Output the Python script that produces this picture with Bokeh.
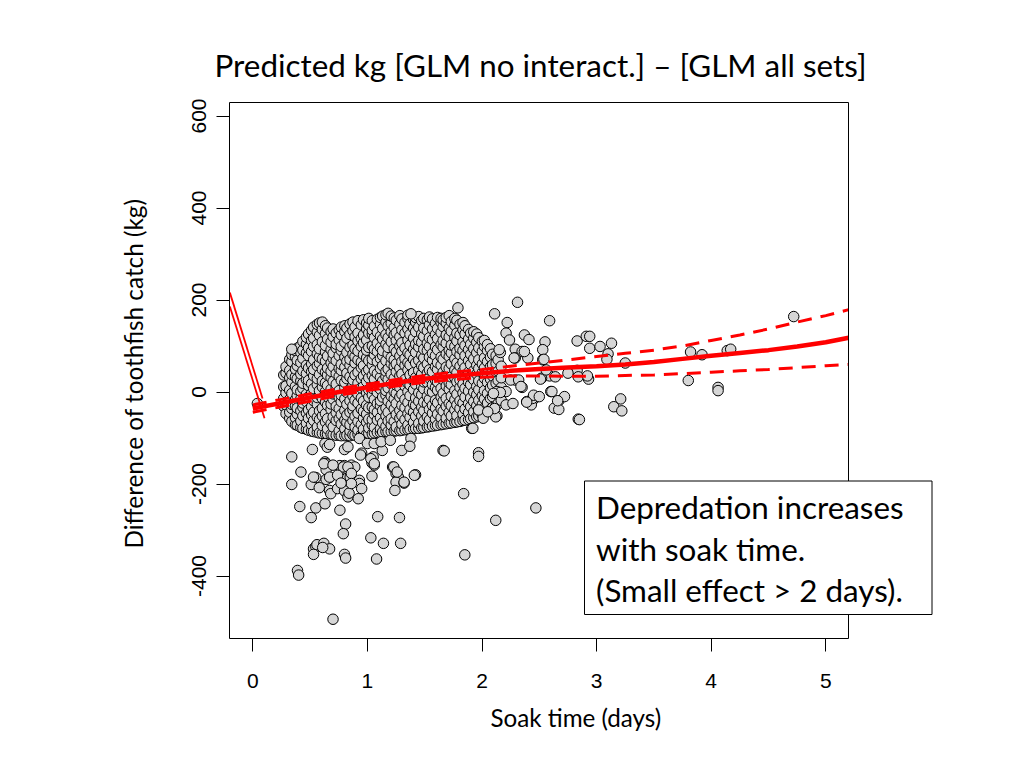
from bokeh.plotting import figure
from bokeh.models import Label, FixedTicker, Range1d, ColumnDataSource, Title
from bokeh.embed import file_html
from bokeh.resources import INLINE

# ---------------- data ----------------
title_text = "Predicted kg [GLM no interact.] \u2013 [GLM all sets]"
x_label_text = "Soak time (days)"
y_label_text = "Difference of toothfish catch  (kg)"
box_lines = ["Depredation increases", "with soak time.", "(Small effect > 2 days)."]

x_ticks = [0, 1, 2, 3, 4, 5]
y_ticks = [-400, -200, 0, 200, 400, 600]
y_tick_labels = ["-400", "-200", "0", "200", "400", "600"]

# dense cloud: soak-time columns and the catch differences read in each column
core_x = [0.27, 0.29, 0.322, 0.341, 0.372, 0.388, 0.419, 0.437, 0.468, 0.486,
          0.513, 0.531, 0.563, 0.582, 0.607, 0.634, 0.652, 0.683, 0.701, 0.728,
          0.754, 0.772, 0.803, 0.821, 0.848, 0.874, 0.892, 0.918, 0.947, 0.966,
          0.993, 1.012, 1.043, 1.061, 1.087, 1.114, 1.133, 1.162, 1.181, 1.208,
          1.234, 1.252, 1.283, 1.301, 1.328, 1.354, 1.372, 1.403, 1.421, 1.448,
          1.474, 1.492, 1.523, 1.541, 1.568, 1.594, 1.612, 1.643, 1.661, 1.688,
          1.714, 1.732, 1.763, 1.781, 1.808, 1.834, 1.852, 1.883, 1.901, 1.928,
          1.954, 1.972, 2.003, 2.021, 2.048, 2.074, 2.092, 2.123, 2.141, 2.168]
core_y = [
    [-31, -14, 11, 37],
    [-47, -28, -2, 13, 41, 55],
    [-57, -44, -16, 4, 31, 47, 71],
    [-64, -36, -27, -3, 22, 38, 66, 81],
    [-71, -56, -30, -17, 12, 33, 50, 77, 90],
    [-72, -48, -35, -8, 5, 29, 57, 69, 95],
    [-77, -63, -41, -15, 1, 24, 39, 64, 86, 101],
    [-79, -52, -33, -24, 8, 19, 46, 73, 91, 110],
    [-81, -68, -46, -21, -5, 27, 40, 58, 85, 104, 119],
    [-83, -57, -39, -11, 14, 25, 52, 79, 96, 126],
    [-85, -71, -50, -32, -3, 18, 44, 61, 88, 112, 134],
    [-86, -62, -44, -19, 7, 35, 49, 70, 99, 117, 141],
    [-88, -76, -55, -27, -12, 16, 29, 57, 83, 103, 130, 147],
    [-89, -60, -41, -6, 3, 38, 62, 76, 94, 123, 150],
    [-90, -73, -52, -35, -14, 11, 24, 49, 72, 109, 136, 152],
    [-91, -65, -47, -22, 1, 20, 43, 67, 87, 101, 127, 144],
    [-92, -80, -58, -29, -10, 14, 37, 52, 78, 115, 139],
    [-92, -69, -38, -26, 6, 31, 45, 63, 92, 108, 131],
    [-93, -76, -54, -16, -4, 23, 55, 73, 84, 120, 137],
    [-94, -62, -45, -31, 9, 17, 40, 68, 96, 104, 128],
    [-94, -84, -58, -36, -12, 3, 34, 51, 79, 113, 135],
    [-95, -70, -49, -21, -7, 25, 47, 60, 90, 99, 124, 141],
    [-95, -80, -61, -40, -15, 10, 21, 54, 76, 108, 131, 144],
    [-94, -66, -50, -27, -1, 29, 41, 67, 86, 117, 139],
    [-95, -85, -71, -44, -19, 6, 33, 58, 71, 97, 125, 148],
    [-93, -62, -39, -30, -9, 15, 26, 48, 82, 102, 133, 152],
    [-94, -76, -53, -18, 2, 37, 63, 77, 94, 120, 141],
    [-92, -83, -64, -46, -24, -5, 19, 43, 70, 89, 111, 128, 155],
    [-93, -71, -37, -13, 9, 29, 53, 65, 99, 116, 146],
    [-91, -81, -57, -42, -20, 12, 35, 57, 81, 107, 124, 157],
    [-92, -66, -48, -29, -2, 23, 44, 74, 91, 113, 137, 150],
    [-90, -78, -59, -34, -11, 5, 31, 49, 68, 97, 128, 145, 160],
    [-91, -72, -60, -33, -6, 8, 36, 59, 71, 100, 126, 134, 155],
    [-89, -77, -49, -38, -16, 17, 28, 46, 81, 93, 118, 143],
    [-88, -61, -44, -25, -1, 12, 40, 66, 88, 106, 130, 158],
    [-88, -80, -56, -30, -19, 6, 32, 51, 73, 97, 121, 147, 162],
    [-87, -67, -40, -11, 14, 24, 57, 79, 90, 115, 138, 165],
    [-86, -75, -52, -35, -7, 3, 33, 45, 68, 104, 125, 152, 168],
    [-86, -63, -44, -20, 9, 27, 50, 83, 97, 118, 144, 171],
    [-86, -72, -58, -28, -9, 18, 38, 62, 75, 109, 131, 149, 165],
    [-85, -64, -37, -15, 1, 30, 56, 70, 94, 124, 140, 161],
    [-84, -76, -49, -25, -3, 15, 44, 61, 87, 112, 129, 156],
    [-84, -57, -40, -11, 10, 35, 52, 78, 100, 120, 147, 166],
    [-83, -70, -51, -29, -5, 22, 39, 66, 89, 107, 135, 159],
    [-82, -60, -34, -16, 13, 27, 58, 73, 96, 128, 151],
    [-82, -72, -47, -23, 1, 19, 48, 64, 85, 113, 137, 160, 167],
    [-81, -55, -38, -8, 15, 37, 59, 81, 102, 125, 148],
    [-80, -66, -44, -26, 5, 24, 42, 71, 93, 117, 139, 158],
    [-79, -53, -29, -13, 17, 31, 63, 86, 104, 131, 152, 162],
    [-79, -68, -43, -20, -2, 28, 47, 69, 98, 112, 141, 164],
    [-78, -52, -33, -6, 12, 39, 57, 80, 108, 126, 155],
    [-77, -63, -41, -22, 7, 22, 53, 74, 93, 121, 139, 160],
    [-76, -54, -26, -9, 21, 41, 61, 90, 106, 133, 157],
    [-75, -61, -38, -16, 3, 31, 48, 76, 99, 118, 146, 163],
    [-74, -46, -29, 0, 16, 44, 69, 84, 114, 137, 159],
    [-73, -59, -35, -18, 10, 26, 55, 79, 98, 125, 149],
    [-72, -48, -23, 4, 22, 49, 64, 92, 116, 138, 162],
    [-71, -56, -37, -11, 8, 35, 58, 76, 103, 129, 151, 160],
    [-70, -42, -20, -3, 27, 43, 71, 97, 112, 142, 157],
    [-69, -57, -31, -14, 13, 38, 54, 83, 106, 124, 150, 162],
    [-68, -44, -25, 6, 20, 51, 77, 91, 120, 139, 166],
    [-67, -52, -30, -9, 16, 33, 61, 85, 102, 132, 153],
    [-66, -39, -17, 3, 31, 48, 72, 99, 118, 145, 160],
    [-65, -51, -28, -5, 22, 42, 63, 88, 111, 128, 156],
    [-64, -36, -19, 10, 26, 56, 81, 95, 124, 147],
    [-62, -48, -24, -2, 17, 45, 65, 90, 109, 135, 151],
    [-61, -37, -11, 8, 36, 53, 79, 101, 126, 144],
    [-60, -45, -25, 2, 21, 43, 68, 92, 115, 136],
    [-58, -32, -13, 16, 33, 60, 82, 104, 128],
    [-56, -43, -21, 0, 27, 46, 72, 94, 117, 131],
    [-54, -30, -6, 12, 39, 58, 85, 108, 126],
    [-52, -39, -18, 5, 24, 51, 70, 96, 118],
    [-50, -27, -8, 19, 42, 61, 88, 110],
    [-46, -35, -15, 3, 30, 52, 74, 99, 112],
    [-42, -24, -3, 21, 40, 66, 90, 103],
    [-38, -14, 9, 28, 55, 76, 94],
    [-34, -10, 15, 35, 59, 82],
    [-30, -4, 19, 44, 62, 79],
    [-25, 0, 25, 45, 70],
    [-18, 10, 31, 56],
]

# scattered sets outside the dense cloud
sparse_x = [0.04, 0.34, 1.38, 1.79, 2.11, 2.31, 2.59, 2.22, 2.37, 2.41, 2.55, 2.53, 2.21, 2.29,
            2.35, 2.29, 2.40, 2.59, 2.29, 2.35, 2.13, 2.21, 2.60, 2.21, 2.27, 2.39, 2.45, 2.43,
            2.63, 2.13, 2.01, 1.97, 1.91, 1.66, 1.97, 1.97,
            0.34, 0.52, 0.63, 0.65, 0.67, 0.76, 0.80, 0.85, 0.95, 1.05, 1.04, 1.13, 1.22, 1.30,
            1.38, 0.63, 0.42, 0.34, 0.51, 0.55, 0.58, 0.64, 0.64, 0.67, 0.64, 0.67, 0.68, 0.74,
            0.80, 0.83, 0.84, 0.79, 0.86, 0.89, 0.84, 0.82, 0.85, 0.93, 0.93, 0.95, 0.92, 1.06,
            1.04, 1.25, 1.27, 1.25, 1.32, 1.24, 1.42, 1.37, 1.67,
            0.41, 0.55, 0.51, 0.63, 0.76, 0.81, 0.79, 1.09, 1.28, 1.03, 1.14, 1.29, 1.08, 0.53,
            0.55, 0.56, 0.62, 0.67, 0.53, 0.61, 0.80, 0.81, 0.39, 0.40, 0.70, 1.84, 2.12, 2.47,
            1.85,
            2.83, 2.91, 2.94, 2.94, 3.03, 3.13, 3.10, 3.09, 3.25, 2.83, 2.84, 2.75, 2.93, 2.61,
            2.67, 2.67, 2.72, 2.84, 3.15, 3.21, 3.22, 3.80, 4.06, 4.06, 3.82, 3.92, 4.14, 4.17,
            4.72, 2.44, 2.45, 2.50, 2.39, 2.12, 2.11, 2.05, 2.52, 2.64, 2.56, 2.25, 2.32, 2.34,
            2.28, 2.37, 2.53, 2.16, 2.15, 2.16, 2.10, 2.24, 2.54, 2.51, 2.66, 2.85, 1.92, 2.92,
            0.80, 0.83, 0.93, 1.00, 1.06, 1.12, 1.20, 1.03, 1.06, 0.94, 1.23, 1.26, 1.32, 1.41,
            0.62, 0.70, 0.53, 0.67, 0.74, 0.83, 0.86, 0.86, 0.77]
sparse_y = [-25, 93, 170, 183, 170, 195, 155, 151, 124, 114, 109, 92, 128, 93,
            88, 74, 74, 35, 26, 10, 1, 1, 1, -28, -25, -21, -16, -28,
            -35, -52, -57, -39, -79, -127, -132, -140,
            -141, -125, -112, -120, -114, -160, -160, -164, -133, -141, -154, -127, -163, -127,
            -101, -152, -174, -201, -201, -186, -208, -156, -169, -186, -190, -214, -221, -210,
            -215, -228, -220, -163, -159, -163, -177, -188, -185, -192, -199, -210, -232, -159,
            -183, -177, -185, -196, -198, -214, -180, -118, -128,
            -249, -252, -273, -243, -257, -287, -308, -271, -273, -317, -329, -329, -363, -341,
            -336, -332, -329, -341, -353, -338, -353, -361, -388, -398, -494, -221, -279, -252,
            -354,
            111, 121, 121, 95, 99, 106, 83, 71, 63, 47, 33, 41, 28, 1,
            -19, -38, -10, -59, -32, -15, -41, 25, 10, 3, 87, 81, 90, 93,
            164, -14, -7, -10, -22, -54, -36, -43, 30, 33, 48, 26, 26, 12,
            74, 88, 70, 86, 92, -1, -3, 113, 71, 28, -19, -60, -79, 35,
            -125, -119, -101, -112, -112, -108, -105, -145, -156, -137, -163, -174, -196, -181,
            -156, -159, -185, -185, -181, -163, -177, -199, -198]

# fitted difference (solid) and its confidence band (dashed)
fit_x = [0.00, 0.25, 0.50, 0.75, 1.00, 1.25, 1.50, 1.75, 2.00, 2.25, 2.50, 2.75, 3.00,
         3.25, 3.50, 3.75, 4.00, 4.25, 4.50, 4.75, 5.00, 5.20]
fit_y = [-36, -24, -12, 0, 10, 20, 29, 35, 41, 46, 50, 53, 56, 60, 65, 72, 79, 85, 91,
         99, 108, 118]
upper_y = [-28, -16, -4, 7, 17, 27, 36, 43, 49, 56, 63, 70, 77, 84, 91, 100, 112, 124,
           137, 152, 166, 179]
lower_y = [-44, -32, -20, -7, 3, 13, 21, 27, 32, 35, 35, 34, 34, 36, 37, 40, 43, 46, 49,
           53, 57, 60]
# two thin segments entering from the left edge
edge_x = [[-0.20, 0.102], [-0.20, 0.085]]
edge_y = [[186, -57], [216, -14]]

# ---------------- layout constants (page pixels) ----------------
PX0, SX = 252.3, 114.6       # page x of 0 days, px per day
PY0, SY = 391.5, 0.460       # page y of 0 kg, px per kg
FRAME_L, FRAME_R, FRAME_T, FRAME_B = 226, 938, 99, 641
BOX_L, BOX_R, BOX_T, BOX_B = 229, 848, 102, 638


def dx(px):
    return (px - PX0) / SX


def dy(py):
    return (PY0 - py) / SY


pts_x = [x for x, col in zip(core_x, core_y) for _ in col] + sparse_x
pts_y = [y for col in core_y for y in col] + sparse_y
src = ColumnDataSource(data=dict(x=pts_x, y=pts_y))

p = figure(frame_width=FRAME_R - FRAME_L, frame_height=FRAME_B - FRAME_T,
           x_range=Range1d(dx(FRAME_L), dx(FRAME_R)),
           y_range=Range1d(dy(FRAME_B), dy(FRAME_T)),
           min_border_left=FRAME_L, min_border_top=FRAME_T,
           min_border_right=20, min_border_bottom=750 - FRAME_B,
           output_backend="svg", toolbar_location=None)
p.outline_line_color = None
p.grid.visible = False
p.background_fill_color = "white"
p.border_fill_color = "white"

p.title.text = title_text
p.title.text_font = "Lato"
p.title.text_font_size = "31.4px"
p.title.text_font_style = "normal"
p.title.text_color = "black"
p.title.align = "left"
p.title.offset = 214 - FRAME_L
p.title.standoff = 31

for ax in (p.xaxis, p.yaxis):
    ax.axis_line_color = None
    ax.major_tick_in = 3
    ax.major_tick_out = 10
    ax.major_tick_line_color = "black"
    ax.major_tick_line_width = 1
    ax.minor_tick_line_color = None
    ax.major_label_text_font = "Liberation Sans"
    ax.major_label_text_font_size = "21px"
    ax.major_label_text_color = "black"

p.xaxis.ticker = FixedTicker(ticks=x_ticks)
p.xaxis.major_label_standoff = 22
p.yaxis.ticker = FixedTicker(ticks=y_ticks)
p.yaxis.major_label_overrides = {t: s for t, s in zip(y_ticks, y_tick_labels)}
p.yaxis.major_label_orientation = "vertical"
p.yaxis.major_label_standoff = 11
p.yaxis.axis_label = y_label_text
p.yaxis.axis_label_text_font = "Lato"
p.yaxis.axis_label_text_font_size = "24.3px"
p.yaxis.axis_label_text_font_style = "normal"
p.yaxis.axis_label_text_color = "black"
p.yaxis.axis_label_standoff = 41

p.add_layout(Title(text=x_label_text, text_font="Lato", text_font_size="24.2px",
                   text_font_style="normal", text_color="black", align="left",
                   offset=490 - FRAME_L, standoff=20), "below")

# points
p.scatter("x", "y", source=src, size=10.5, fill_color="#d6d6d6",
          line_color="black", line_width=1)

# red lines
p.multi_line(edge_x, edge_y, line_color="red", line_width=1.8)
p.line(fit_x, upper_y, line_color="red", line_width=3, line_dash="14 9")
p.line(fit_x, lower_y, line_color="red", line_width=3, line_dash="14 9")
p.line(fit_x, fit_y, line_color="red", line_width=4.5)

# plot box
p.line([dx(BOX_L), dx(BOX_L), dx(BOX_R), dx(BOX_R), dx(BOX_L)],
       [dy(BOX_B), dy(BOX_T), dy(BOX_T), dy(BOX_B), dy(BOX_B)],
       line_color="black", line_width=1)

# text box
p.quad(left=dx(584), right=dx(931.5), top=dy(480.5), bottom=dy(614),
       fill_color="white", line_color="black", line_width=1)
for i, t in enumerate(box_lines):
    p.add_layout(Label(x=dx(595.5), y=dy(506.5 + 41.6 * i), text=t,
                       text_font="Lato", text_font_size="31.4px",
                       text_align="left", text_baseline="alphabetic",
                       text_color="black"))

open("out.html", "w").write(file_html(p, INLINE))
